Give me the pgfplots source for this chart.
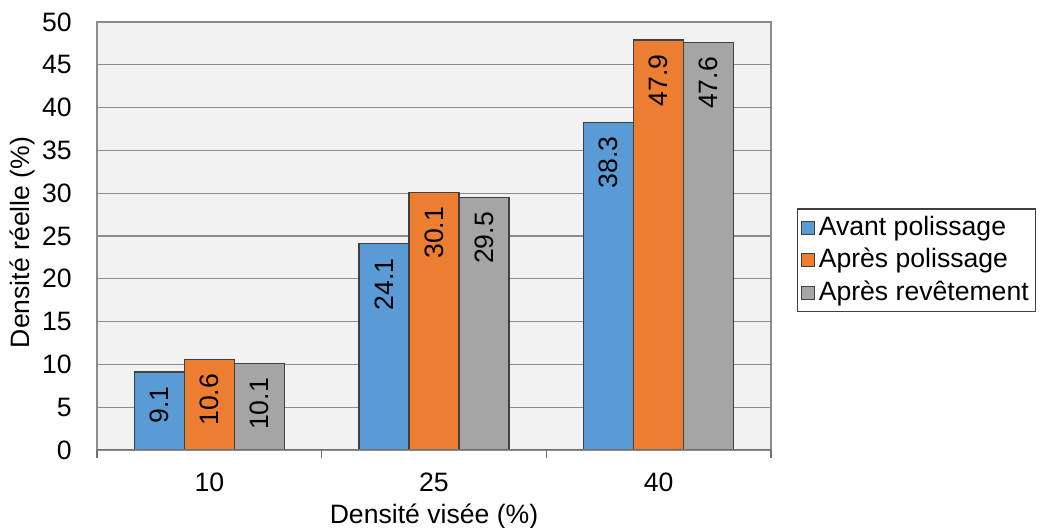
\documentclass[border=0pt]{standalone}
\usepackage{fontspec}
\setmainfont{Liberation Sans}
\usepackage{pgfplots}
\pgfplotsset{compat=1.18}
\definecolor{cblue}{HTML}{5B9BD5}
\definecolor{corange}{HTML}{ED7D31}
\definecolor{cgray}{HTML}{A5A5A5}
\definecolor{bggray}{HTML}{F2F2F2}
\definecolor{gridgray}{HTML}{8C8C8C}
\definecolor{edgecol}{HTML}{404040}
\definecolor{axisgray}{HTML}{707070}
\begin{document}
\fontsize{13.3}{16}\selectfont
\begin{tikzpicture}
\useasboundingbox (-48.5pt,-39pt) rectangle (474pt,225pt);
\begin{axis}[
  scale only axis, width=337pt, height=214pt,
  xmin=-0.5, xmax=2.5, ymin=0, ymax=50,
  ybar=0pt, bar width=25pt,
  xtick={0,1,2}, xticklabels={10,25,40},
  ytick={0,5,...,50},
  major tick length=0pt,
  /pgf/number format/assume math mode=true,
  extra x ticks={-0.5,0.5,1.5,2.5}, extra x tick labels={},
  extra x tick style={major tick length=4pt, tick align=outside, tick pos=bottom, grid=none, major tick style={color=axisgray, line width=0.8pt}},
  ymajorgrids, grid style={color=gridgray, line width=0.6pt},
  axis background/.style={fill=bggray},
  axis line style={color=gridgray, line width=0.6pt},
  yticklabel style={xshift=-8pt},
  xticklabel style={yshift=-7pt},
  xlabel={Densité visée (\%)}, ylabel={Densité réelle (\%)},
  every axis x label/.style={at={(axis description cs:0.5,-0.155)}, anchor=center},
  every axis y label/.style={at={(axis description cs:-0.1113,0.485)}, rotate=90, anchor=center},
  every axis plot/.append style={draw=edgecol, line width=0.6pt,
    legend image code/.code={\draw[##1, line width=0.5pt] (0pt,-3.3pt) rectangle (6.6pt,3.3pt);}},
  nodes near coords,
  nodes near coords style={rotate=90, anchor=east, inner xsep=7pt, text=black, /pgf/number format/fixed, /pgf/number format/precision=1, /pgf/number format/fixed zerofill},
  legend style={at={(1.0386,0.3224)}, anchor=south west, draw=edgecol, line width=0.6pt, fill=white, inner xsep=1.5pt, inner ysep=1.5pt, row sep=0.5pt},
  legend cell align=left,
]
\addplot[fill=cblue] coordinates {(0,9.1) (1,24.1) (2,38.3)};
\addplot[fill=corange] coordinates {(0,10.6) (1,30.1) (2,47.9)};
\addplot[fill=cgray] coordinates {(0,10.1) (1,29.5) (2,47.6)};
\legend{Avant polissage, Après polissage, Après revêtement}
\draw[axisgray, line width=0.9pt] (rel axis cs:0,0) -- (rel axis cs:1,0);
\end{axis}
\end{tikzpicture}
\end{document}
